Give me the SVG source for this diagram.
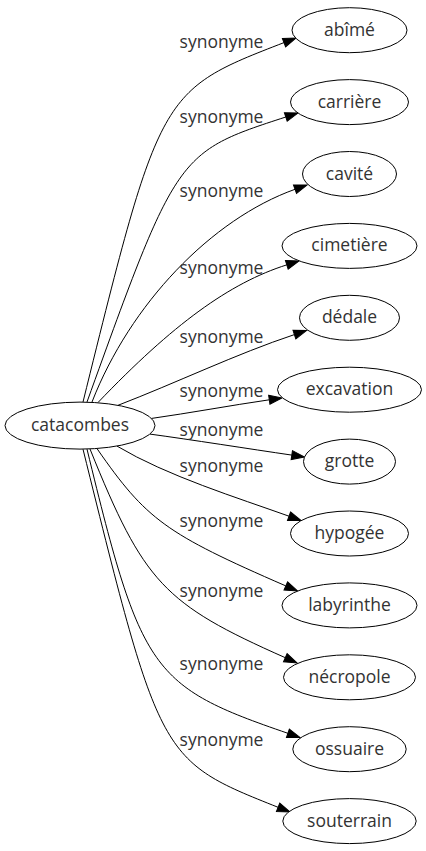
<svg xmlns="http://www.w3.org/2000/svg" width="426" height="851" viewBox="0 0 426 851">
<style>
  .node ellipse { fill: #ffffff; stroke: #000000; stroke-width: 1; }
  .node text { font-family: "Open Sans", "DejaVu Sans", sans-serif; font-size: 17.5px; fill: #333333; text-anchor: middle; }
  .edges path { fill: none; stroke: #000000; stroke-width: 1; marker-end: url(#arr); }
  .edges text { font-family: "Open Sans", "DejaVu Sans", sans-serif; font-size: 17.5px; fill: #333333; text-anchor: middle; }
</style>
<defs>
  <marker id="arr" markerUnits="userSpaceOnUse" viewBox="-1 -1 15 11" markerWidth="15" markerHeight="11" refX="0" refY="4.5" orient="auto" overflow="visible">
    <path d="M0,0 L12.8,4.5 L0,9 Z" fill="#000000" stroke="#000000" stroke-width="1"/>
  </marker>
</defs>
<rect width="426" height="851" fill="#ffffff"/>
<g id="edges" class="edges">
  <path d="M83,402 C160,90.6 160,90.6 284,42.6"/>
  <path d="M87,402 C177,152.4 177,152.4 285.8,117"/>
  <path d="M92,402 C130.1,304.3 211.3,219.2 295,189.3"/>
  <path d="M98,402.5 C172.8,324.3 229.5,283 286.8,264.85"/>
  <path d="M118,405.3 C176,383 236,354 294.4,334.6"/>
  <path d="M151,418.5 C190,413 230,405.5 269.3,399.8"/>
  <path d="M150,434.1 C190,439.5 250,449 291.8,455.1"/>
  <path d="M117,446.1 C167,476 238,497.9 289,516.2"/>
  <path d="M97,448.6 C146.5,519.8 165.4,533.5 285.8,585.9"/>
  <path d="M90,449 C144,582.8 163.5,603.7 285.3,657.7"/>
  <path d="M87,449.1 C141.2,672.2 151.2,686.4 287.9,733.3"/>
  <path d="M83,449.2 C160,760.3 160,760.3 278.1,807.3"/>
  <text x="221.5" y="48">synonyme</text>
  <text x="221.5" y="123">synonyme</text>
  <text x="221.5" y="197">synonyme</text>
  <text x="221.5" y="274">synonyme</text>
  <text x="221.5" y="343">synonyme</text>
  <text x="221.5" y="397">synonyme</text>
  <text x="221.5" y="436">synonyme</text>
  <text x="221.5" y="472">synonyme</text>
  <text x="221.5" y="527">synonyme</text>
  <text x="221.5" y="597">synonyme</text>
  <text x="221.5" y="670">synonyme</text>
  <text x="221.5" y="746">synonyme</text>
</g>
<g id="catacombes" class="node"><ellipse cx="80" cy="425.6" rx="75" ry="23.5"/><text x="80" y="431">catacombes</text></g>
<g id="abime" class="node"><ellipse cx="349.5" cy="30.2" rx="57.5" ry="22.5"/><text x="349.5" y="35.7">abîmé</text></g>
<g id="carriere" class="node"><ellipse cx="349.5" cy="102.1" rx="59" ry="22.5"/><text x="349.5" y="107.6">carrière</text></g>
<g id="cavite" class="node"><ellipse cx="349.5" cy="174" rx="47" ry="22.5"/><text x="349.5" y="179.5">cavité</text></g>
<g id="cimetiere" class="node"><ellipse cx="349.5" cy="245.9" rx="67.5" ry="22.5"/><text x="349.5" y="251.4">cimetière</text></g>
<g id="dedale" class="node"><ellipse cx="349.5" cy="317.8" rx="50" ry="22.5"/><text x="349.5" y="323.3">dédale</text></g>
<g id="excavation" class="node"><ellipse cx="349.5" cy="389.7" rx="72" ry="22.5"/><text x="349.5" y="395.2">excavation</text></g>
<g id="grotte" class="node"><ellipse cx="349.5" cy="461.6" rx="46" ry="22.5"/><text x="349.5" y="467.1">grotte</text></g>
<g id="hypogee" class="node"><ellipse cx="349.5" cy="533.5" rx="59" ry="22.5"/><text x="349.5" y="539">hypogée</text></g>
<g id="labyrinthe" class="node"><ellipse cx="349.5" cy="605.4" rx="67.5" ry="22.5"/><text x="349.5" y="610.9">labyrinthe</text></g>
<g id="necropole" class="node"><ellipse cx="349.5" cy="677.3" rx="66" ry="22.5"/><text x="349.5" y="682.8">nécropole</text></g>
<g id="ossuaire" class="node"><ellipse cx="349.5" cy="749.2" rx="56.7" ry="22.5"/><text x="349.5" y="754.7">ossuaire</text></g>
<g id="souterrain" class="node"><ellipse cx="349.5" cy="821.1" rx="66.7" ry="22.5"/><text x="349.5" y="826.6">souterrain</text></g>
</svg>
